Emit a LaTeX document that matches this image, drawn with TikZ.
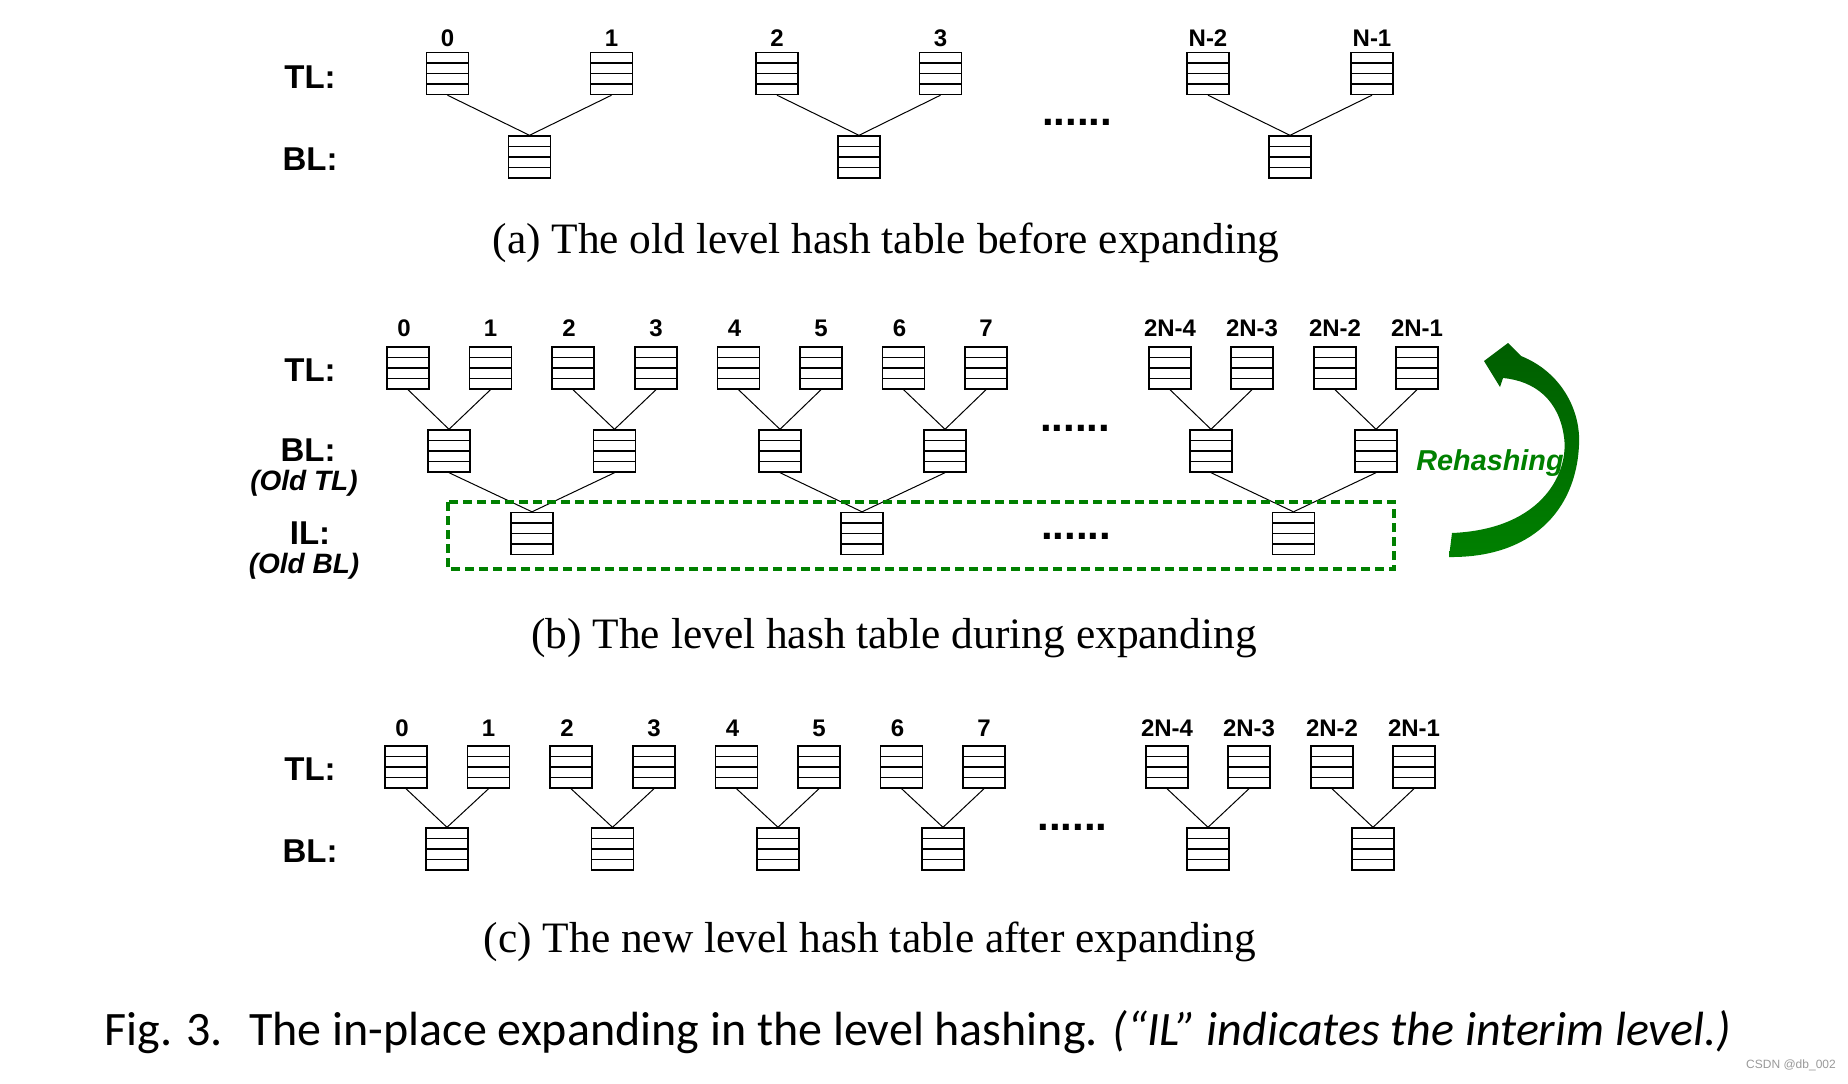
\documentclass[tikz,border=0pt]{standalone}
\usepackage{fontspec}
\setmainfont{Liberation Serif}
\newfontfamily\arialfont{Liberation Sans}
\newfontfamily\captionfont{Carlito}
\usepackage{tikz}
\usetikzlibrary{calc,positioning}
\definecolor{rehashgreen}{RGB}{0,128,0}
\definecolor{arrowdark}{RGB}{0,94,0}

\tikzset{
  bucket/.style={draw, line width=0.7pt, minimum width=21pt, minimum height=21pt, inner sep=0pt,
    path picture={\foreach \k in {1,2,3}
      \draw[line width=0.7pt] ($(path picture bounding box.north west)!\k/4!(path picture bounding box.south west)$) -- ++(21pt,0);}},
  levellabel/.style={font=\arialfont\bfseries\fontsize{16.5}{18}\selectfont, inner sep=0pt},
  oldlabel/.style={font=\arialfont\bfseries\itshape\fontsize{14}{16}\selectfont, inner sep=0pt},
  idxlabel/.style={font=\arialfont\bfseries\fontsize{12}{13}\selectfont, inner sep=0pt},
  dotslabel/.style={font=\arialfont\bfseries\fontsize{21}{21}\selectfont, inner sep=0pt},
  subcap/.style={font=\fontsize{21.7}{24}\selectfont, anchor=base, inner sep=0pt},
  link/.style={line width=0.5pt},
}

\begin{document}
\begin{tikzpicture}[x=0.5pt, y=-0.5pt]
  \useasboundingbox (0,0) rectangle (1848,1083);

  % (a) old table
  \node[levellabel] (a-tl) at (310,77) {TL:};
  \node[levellabel] (a-bl) at (310,159) {BL:};
  \foreach \x/\lab [count=\i] in {447.5/0, 611.5/1, 777/2, 940.5/3, 1208/N-2, 1372/N-1} {
    \node[bucket] (a-t\i) at (\x,73.5) {};
    \node[idxlabel] (a-n\i) at (\x,38) {\lab};
  }
  \foreach \x [count=\i] in {529.5, 859, 1290}
    \node[bucket] (a-b\i) at (\x,157) {};
  \foreach \i in {1,...,6} {
    \pgfmathtruncatemacro\j{(\i+1)/2}
    \draw[link] (a-t\i.south) -- (a-b\j.north);
  }
  \node[dotslabel] (a-dots) at (1077,122) {......};
  \node[subcap] (cap-a) at (886,253) {(a) The old level hash table before expanding};

  % (b) during expanding
  \node[levellabel] (b-tl) at (310,370) {TL:};
  \node[levellabel] (b-bl) at (308,450) {BL:};
  \node[oldlabel] (b-oldtl) at (304,483) {(Old TL)};
  \node[levellabel] (b-il) at (310,533.5) {IL:};
  \node[oldlabel] (b-oldbl) at (304,566) {(Old BL)};
  \foreach \x/\lx/\lab [count=\i] in {408/404/0, 490.5/490.5/1, 573/569/2, 656/656/3, 738.5/734.5/4,
      821/821/5, 903.6/899.6/6, 986/986/7,
      1170/1170/2N-4, 1252/1252/2N-3, 1335/1335/2N-2, 1417/1417/2N-1} {
    \node[bucket] (b-t\i) at (\x,368) {};
    \node[idxlabel] (b-n\i) at (\lx,328.5) {\lab};
  }
  \foreach \x [count=\i] in {449, 614.5, 780, 945, 1211, 1376}
    \node[bucket] (b-b\i) at (\x,451) {};
  \foreach \x [count=\i] in {532, 862, 1293.5}
    \node[bucket] (b-i\i) at (\x,533.5) {};
  \foreach \i in {1,...,12} {
    \pgfmathtruncatemacro\j{(\i+1)/2}
    \draw[link] (b-t\i.south) -- (b-b\j.north);
  }
  \foreach \i in {1,...,6} {
    \pgfmathtruncatemacro\j{(\i+1)/2}
    \draw[link] (b-b\i.south) -- (b-i\j.north);
  }
  \node[dotslabel] (b-dots1) at (1075,428.5) {......};
  \node[dotslabel] (b-dots2) at (1076,536) {......};
  \draw[rehashgreen, line width=2pt, dash pattern=on 4.5pt off 2.5pt] (448,502) rectangle (1394,569);
  % rehashing arrow
  \shade[top color=arrowdark, bottom color=rehashgreen]
    (1452,533) .. controls (1545,529) and (1569,470) .. (1564,437)
    .. controls (1559,400) and (1535,381) .. (1503,378)
    -- (1500,387) -- (1484,361) -- (1508,343) -- (1521,356)
    .. controls (1561,372) and (1581,410) .. (1579,445)
    .. controls (1576,512) and (1530,558) .. (1449,557) -- cycle;
  \node[oldlabel, font=\arialfont\bfseries\itshape\fontsize{14.4}{16}\selectfont, text=rehashgreen] (rehash) at (1490,463) {Rehashing};
  \node[subcap] (cap-b) at (894,648) {(b) The level hash table during expanding};

  % (c) new table
  \node[levellabel] (c-tl) at (310,769.5) {TL:};
  \node[levellabel] (c-bl) at (310,851) {BL:};
  \foreach \x/\lx/\lab [count=\i] in {406/402/0, 488.6/488.6/1, 571/567/2, 654/654/3, 736.5/732.5/4,
      819/819/5, 901.6/897.6/6, 984/984/7,
      1167/1167/2N-4, 1249/1249/2N-3, 1332/1332/2N-2, 1414/1414/2N-1} {
    \node[bucket] (c-t\i) at (\x,767) {};
    \node[idxlabel] (c-n\i) at (\lx,728) {\lab};
  }
  \foreach \x [count=\i] in {447, 612.5, 778, 943, 1208, 1373}
    \node[bucket] (c-b\i) at (\x,849) {};
  \foreach \i in {1,...,12} {
    \pgfmathtruncatemacro\j{(\i+1)/2}
    \draw[link] (c-t\i.south) -- (c-b\j.north);
  }
  \node[dotslabel] (c-dots) at (1072.5,827) {......};
  \node[subcap] (cap-c) at (870,952) {(c) The new level hash table after expanding};

  % figure caption
  \node[anchor=base west, inner sep=0pt, font=\captionfont\fontsize{24}{28}\selectfont] (figcap) at (104,1045)
    {Fig. 3.\hspace{0.55em}The in-place expanding in the level hashing. \textit{(“IL” indicates the interim level.)}};
  \node[font=\arialfont\fontsize{6}{7}\selectfont, text=black!40, inner sep=0pt] (mark) at (1791,1065) {CSDN @db\_002};
\end{tikzpicture}
\end{document}
